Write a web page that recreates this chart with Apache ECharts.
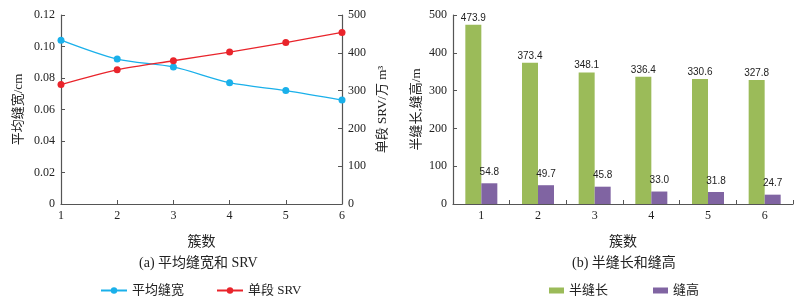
<!DOCTYPE html>
<html>
<head>
<meta charset="utf-8">
<script src="https://cdn.jsdelivr.net/npm/echarts@6/dist/echarts.min.js"></script>
<style>
  html, body { margin: 0; padding: 0; background: #fff; }
  #chart { width: 800px; height: 302px; }
</style>
</head>
<body>
<div id="chart"></div>
<script>
// 簇数
const clusters = [1, 2, 3, 4, 5, 6]
// (a) 平均缝宽 / cm 与 单段 SRV / 万 m3
const avgWidth = [0.104, 0.092, 0.087, 0.077, 0.072, 0.066]
const srv = [316, 355, 379, 402, 427, 454]
// (b) 半缝长 与 缝高 / m
const halfLength = [473.9, 373.4, 348.1, 336.4, 330.6, 327.8]
const fracHeight = [54.8, 49.7, 45.8, 33.0, 31.8, 24.7]

const serif = "'Liberation Serif', 'Noto Sans CJK SC', serif"
const axisColor = '#555'

const chart = echarts.init(document.getElementById('chart'))

// 通用坐标轴样式
function axisBase() {
  return {
    axisLine: { show: true, lineStyle: { color: axisColor, width: 1.2 } },
    axisTick: { show: true, inside: true, length: 4, lineStyle: { color: axisColor } },
    axisLabel: { color: '#222', fontFamily: serif, fontSize: 12, margin: 6 },
    splitLine: { show: false },
    nameTextStyle: { color: '#222', fontFamily: serif, fontSize: 13 }
  }
}

const option = {
  animation: false,
  grid: [
    { left: 61, right: 458, top: 15, bottom: 98 },
    { left: 453, right: 7, top: 15, bottom: 98 }
  ],
  xAxis: [
    Object.assign(axisBase(), {
      type: 'value', gridIndex: 0, min: 1, max: 6, interval: 1,
      name: '簇数', nameLocation: 'middle', nameGap: 31,
      nameTextStyle: { color: '#222', fontFamily: serif, fontSize: 14 }
    }),
    Object.assign(axisBase(), {
      type: 'category', gridIndex: 1, data: clusters, boundaryGap: true,
      name: '簇数', nameLocation: 'middle', nameGap: 31,
      nameTextStyle: { color: '#222', fontFamily: serif, fontSize: 14 }
    })
  ],
  yAxis: [
    Object.assign(axisBase(), {
      type: 'value', gridIndex: 0, min: 0, max: 0.12, interval: 0.02,
      name: '平均缝宽/cm', nameLocation: 'middle', nameGap: 36,
      axisLabel: {
        color: '#222', fontFamily: serif, fontSize: 12, margin: 6,
        formatter: v => (v === 0 ? '0' : v.toFixed(2))
      }
    }),
    Object.assign(axisBase(), {
      type: 'value', gridIndex: 0, min: 0, max: 500, interval: 100, position: 'right',
      name: '单段 SRV/万 m³', nameLocation: 'middle', nameGap: 34, nameRotate: 90
    }),
    Object.assign(axisBase(), {
      type: 'value', gridIndex: 1, min: 0, max: 500, interval: 100,
      name: '半缝长,缝高/m', nameLocation: 'middle', nameGap: 30
    })
  ],
  legend: [
    {
      data: ['平均缝宽', '单段 SRV'],
      left: 95, top: 279, itemWidth: 26, itemHeight: 8, itemGap: 32,
      textStyle: { color: '#222', fontFamily: serif, fontSize: 13 }
    },
    {
      data: ['半缝长', '缝高'],
      left: 544, top: 279, itemWidth: 15, itemHeight: 6, itemGap: 45,
      icon: 'rect',
      textStyle: { color: '#222', fontFamily: serif, fontSize: 13 }
    }
  ],
  graphic: [
    {
      type: 'text', left: 139, top: 256,
      style: { text: '(a) 平均缝宽和 SRV', font: "14px 'Liberation Serif', 'Noto Sans CJK SC'", fill: '#222' }
    },
    {
      type: 'text', left: 572, top: 256,
      style: { text: '(b) 半缝长和缝高', font: "14px 'Liberation Serif', 'Noto Sans CJK SC'", fill: '#222' }
    }
  ],
  series: [
    {
      name: '平均缝宽', type: 'line', xAxisIndex: 0, yAxisIndex: 0,
      data: clusters.map((c, i) => [c, avgWidth[i]]),
      smooth: 0.3, symbol: 'circle', symbolSize: 7,
      lineStyle: { color: '#1ab0ea', width: 1.3 },
      itemStyle: { color: '#1ab0ea' }
    },
    {
      name: '单段 SRV', type: 'line', xAxisIndex: 0, yAxisIndex: 1,
      data: clusters.map((c, i) => [c, srv[i]]),
      smooth: 0.3, symbol: 'circle', symbolSize: 7,
      lineStyle: { color: '#e9242b', width: 1.3 },
      itemStyle: { color: '#e9242b' }
    },
    {
      name: '半缝长', type: 'bar', xAxisIndex: 1, yAxisIndex: 2,
      data: halfLength, barWidth: 16, barGap: '0%',
      itemStyle: { color: '#9bbb59' },
      label: {
        show: true, position: 'top', distance: 2, color: '#222',
        fontFamily: "'Liberation Sans', sans-serif", fontSize: 10,
        formatter: p => p.value.toFixed(1)
      }
    },
    {
      name: '缝高', type: 'bar', xAxisIndex: 1, yAxisIndex: 2,
      data: fracHeight, barWidth: 16, barGap: '0%',
      itemStyle: { color: '#8064a2' },
      label: {
        show: true, position: 'top', distance: 6, color: '#222',
        fontFamily: "'Liberation Sans', sans-serif", fontSize: 10,
        formatter: p => p.value.toFixed(1)
      }
    }
  ]
}

chart.setOption(option)
</script>
</body>
</html>
